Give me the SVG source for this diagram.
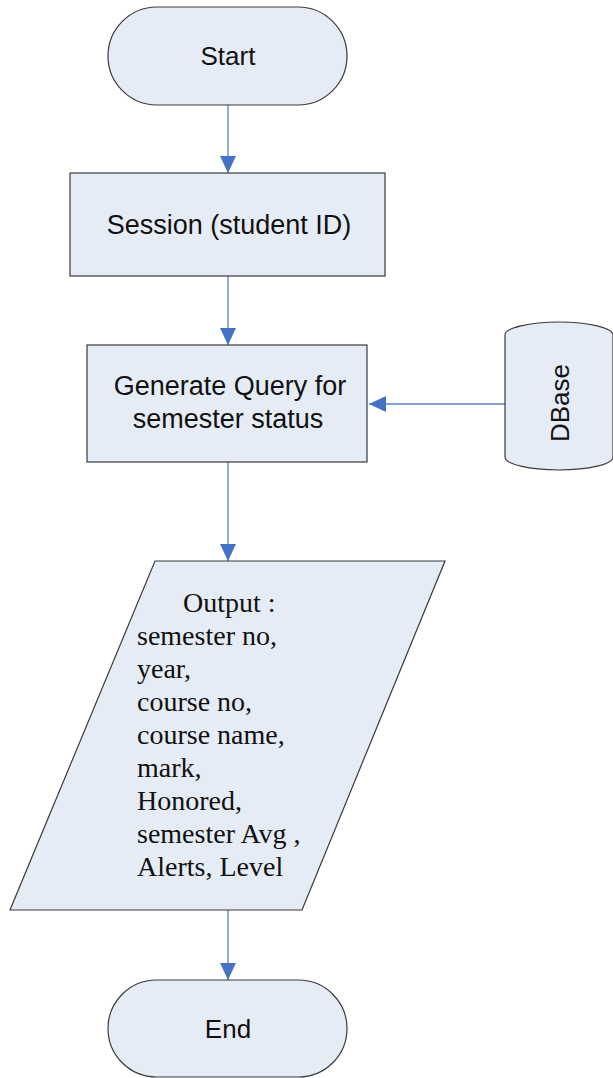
<svg xmlns="http://www.w3.org/2000/svg" width="613" height="1078" viewBox="0 0 613 1078">
  <style>
    .shape { fill: #E6ECF6; stroke: #3a3a3a; stroke-width: 1.2; }
    .sans { font-family: "Liberation Sans", Arial, sans-serif; font-size: 26px; fill: #111; }
    .big { font-size: 27px; }
    .serif { font-family: "Liberation Serif", "Times New Roman", serif; font-size: 28px; fill: #111; }
    .conn { stroke: #5B83C9; stroke-width: 1.3; fill: none; marker-end: url(#arrow); }
  </style>
  <defs>
    <marker id="arrow" markerUnits="userSpaceOnUse" markerWidth="18" markerHeight="18" viewBox="0 0 18 18" refX="17" refY="9" orient="auto">
      <path d="M0,1 L17,9 L0,17 Z" fill="#4472C4"/>
    </marker>
  </defs>

  <rect width="613" height="1078" fill="#ffffff"/>

  <g id="connectors">
    <line class="conn" x1="228" y1="105" x2="228" y2="173"/>
    <line class="conn" x1="228" y1="276" x2="228" y2="345"/>
    <line class="conn" x1="228" y1="462" x2="228" y2="561"/>
    <line class="conn" x1="228" y1="910" x2="228" y2="980"/>
    <line class="conn" x1="505" y1="404" x2="369" y2="404"/>
  </g>

  <g id="start">
    <rect class="shape" x="108" y="7" width="239" height="98" rx="49" ry="49"/>
    <text class="sans" x="228" y="65" text-anchor="middle">Start</text>
  </g>

  <g id="session">
    <rect class="shape" x="70" y="173" width="315" height="103"/>
    <text class="sans big" x="229" y="234" text-anchor="middle">Session (student ID)</text>
  </g>

  <g id="query">
    <rect class="shape" x="87" y="345" width="280" height="117"/>
    <text class="sans big" x="230" y="395" text-anchor="middle">Generate Query for</text>
    <text class="sans big" x="228" y="428" text-anchor="middle">semester status</text>
  </g>

  <g id="dbase">
    <path class="shape" d="M505,335 A54,13 0 0 1 613,335 L613,457 A54,13 0 0 1 505,457 Z"/>
    <text class="sans" transform="translate(569,403) rotate(-90)" text-anchor="middle">DBase</text>
  </g>

  <g id="output">
    <polygon class="shape" points="155,561 445,561 302,910 10,910"/>
    <text class="serif" x="183" y="612">Output :</text>
    <text class="serif" x="137" y="645">semester no,</text>
    <text class="serif" x="137" y="678">year,</text>
    <text class="serif" x="137" y="711">course no,</text>
    <text class="serif" x="137" y="744">course name,</text>
    <text class="serif" x="137" y="777">mark,</text>
    <text class="serif" x="137" y="810">Honored,</text>
    <text class="serif" x="137" y="843">semester Avg ,</text>
    <text class="serif" x="137" y="876">Alerts, Level</text>
  </g>

  <g id="end">
    <rect class="shape" x="108" y="980" width="239" height="97" rx="48.5" ry="48.5"/>
    <text class="sans" x="228" y="1038" text-anchor="middle">End</text>
  </g>
</svg>
